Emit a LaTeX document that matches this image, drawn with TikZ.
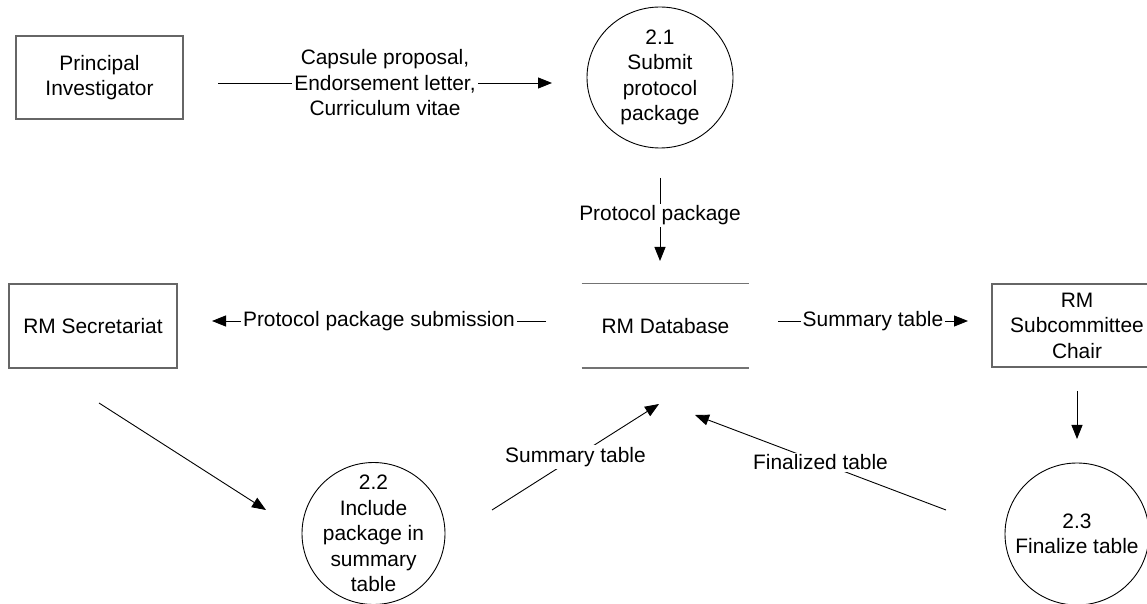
\documentclass[tikz,border=0pt]{standalone}
\usepackage{fontspec}
\setmainfont{Liberation Sans}
\usetikzlibrary{arrows.meta,shapes.geometric}
\begin{document}
\begin{tikzpicture}[x=0.5pt,y=-0.5pt,
  every node/.style={font=\fontsize{10.45pt}{12.75pt}\selectfont, align=center},
  entity/.style={draw=black!60, line width=0.6pt, inner sep=0pt},
  proc/.style={draw=black, line width=0.45pt, ellipse, inner sep=0pt},
  proctext/.style={inner sep=0pt},
  flow/.style={draw=black, line width=0.45pt, -{Triangle[length=7pt,width=5.5pt]}},
  flowlabel/.style={fill=white, inner sep=1pt},
  storeline/.style={draw=black!55, line width=0.9pt}]
\useasboundingbox (0,0) rectangle (1147,604);

% external entities
\node[entity, minimum width=83.5pt, minimum height=41.5pt] (pi) at (99.5,77.5) {Principal\\Investigator};
\node[entity, minimum width=84pt, minimum height=42pt] (sec) at (93,326) {RM Secretariat};
\node[entity, minimum width=85pt, minimum height=41.5pt] (chair) at (1077,325.5) {RM\\Subcommittee\\Chair};

% data store
\node[minimum width=83.5pt, minimum height=42pt, inner sep=0pt] (db) at (665.5,326) {RM Database};
\draw[storeline] (db.north west) -- (db.north east);
\draw[storeline] (db.south west) -- (db.south east);

% processes
\node[proc, minimum width=73pt, minimum height=70.5pt] (p21) at (660,77.5) {};
\node[proctext] (p21t) at (p21.center) {2.1\\Submit\\protocol\\package};
\node[proc, minimum width=71.5pt, minimum height=71pt] (p22) at (373.5,533.5) {};
\node[proctext] (p22t) at (p22.center) {2.2\\Include\\package in\\summary\\table};
\node[proc, minimum width=72pt, minimum height=71pt] (p23) at (1077,534) {};
\node[proctext] (p23t) at (p23.center) {2.3\\Finalize table};

% flow end points
\coordinate (f1s) at (218,83);   \coordinate (f1e) at (552,83);
\coordinate (f2s) at (660,178);  \coordinate (f2e) at (660,261);
\coordinate (f3s) at (546,321);  \coordinate (f3e) at (212,321);
\coordinate (f4s) at (778,321);  \coordinate (f4e) at (968,321);
\coordinate (f5s) at (99,403);   \coordinate (f5e) at (266,510);
\coordinate (f6s) at (492,510);  \coordinate (f6e) at (659,404);
\coordinate (f7s) at (946,510);  \coordinate (f7e) at (695,415);
\coordinate (f8s) at (1077,391); \coordinate (f8e) at (1077,439);

% flows
\draw[flow] (f1s) -- node[flowlabel]{Capsule proposal,\\Endorsement letter,\\Curriculum vitae} (f1e);
\draw[flow] (f2s) -- node[flowlabel, pos=0.45]{Protocol package} (f2e);
\draw[flow] (f3s) -- node[flowlabel]{Protocol package submission} (f3e);
\draw[flow] (f4s) -- node[flowlabel]{Summary table} (f4e);
\draw[flow] (f5s) -- (f5e);
\draw[flow] (f6s) -- node[flowlabel]{Summary table} (f6e);
\draw[flow] (f7s) -- node[flowlabel]{Finalized table} (f7e);
\draw[flow] (f8s) -- (f8e);
\end{tikzpicture}
\end{document}
